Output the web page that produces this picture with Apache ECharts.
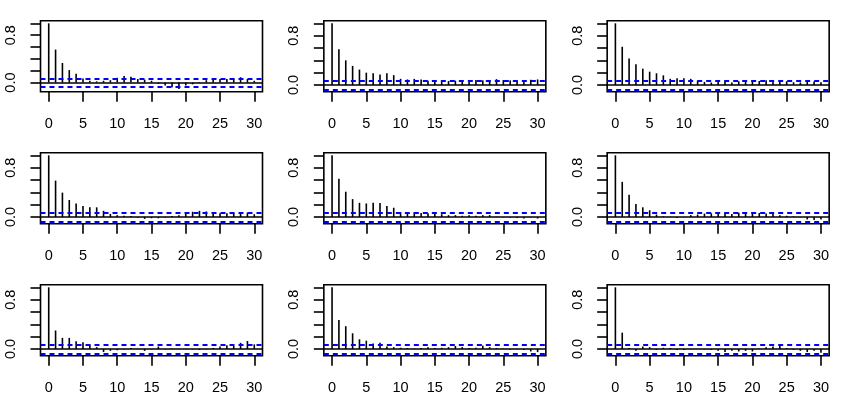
<!DOCTYPE html>
<html>
<head>
<meta charset="utf-8">
<script src="https://cdn.jsdelivr.net/npm/echarts@6/dist/echarts.min.js"></script>
<style>
    html, body { margin: 0; padding: 0; background: #fff; }
    #chartAcf { width: 850px; height: 396px; }
</style>
</head>
<body>
<div id="chartAcf"></div>
<script>
    // lags 0..30
    const lags = [0,1,2,3,4,5,6,7,8,9,10,11,12,13,14,15,16,17,18,19,20,21,22,23,24,25,26,27,28,29,30];

    // acf values per panel (row by row)
    const acf1 = [1, 0.557, 0.33, 0.21, 0.15, 0.07, 0.03, 0.02, 0.03, 0.04, 0.08, 0.11, 0.10, 0.06, 0.05, 0.03, -0.02, -0.05, -0.08, -0.11, -0.05, -0.03, 0.01, 0.04, 0.05, 0.06, 0.06, 0.07, 0.09, 0.06, 0.03];
    const acf2 = [1, 0.578, 0.40, 0.31, 0.25, 0.20, 0.19, 0.17, 0.19, 0.16, 0.10, 0.09, 0.10, 0.09, 0.07, 0.065, 0.06, 0.065, 0.07, 0.06, 0.07, 0.08, 0.075, 0.08, 0.095, 0.08, 0.075, 0.07, 0.065, 0.085, 0.09];
    const acf3 = [1, 0.62, 0.43, 0.335, 0.265, 0.216, 0.19, 0.157, 0.10, 0.11, 0.11, 0.10, 0.07, 0.05, 0.04, 0.06, 0.07, 0.04, 0.06, 0.07, 0.08, 0.065, 0.075, 0.07, 0.08, 0.06, 0.045, 0.04, 0.05, 0.055, 0.045];
    const acf4 = [1, 0.59, 0.395, 0.275, 0.22, 0.18, 0.157, 0.157, 0.10, 0.05, 0.03, 0.02, 0.015, -0.01, -0.03, -0.02, -0.02, -0.01, 0.015, 0.03, 0.055, 0.085, 0.10, 0.09, 0.07, 0.06, 0.06, 0.065, 0.07, 0.07, 0.045];
    const acf5 = [1, 0.62, 0.41, 0.29, 0.23, 0.22, 0.23, 0.227, 0.18, 0.15, 0.08, 0.075, 0.075, 0.065, 0.06, 0.055, 0.045, 0.03, 0.03, 0.02, 0.03, 0.02, 0.03, 0.03, 0.005, -0.005, -0.01, -0.015, -0.025, -0.005, -0.025];
    const acf6 = [1, 0.57, 0.36, 0.21, 0.157, 0.11, 0.04, 0.01, 0.005, -0.015, -0.005, 0.03, 0.04, 0.055, 0.06, 0.065, 0.065, 0.05, 0.07, 0.07, 0.065, 0.065, 0.055, 0.05, 0.03, 0.02, 0.01, -0.005, -0.04, -0.05, -0.04];
    const acf7 = [1, 0.30, 0.18, 0.18, 0.125, 0.11, 0.07, 0.03, -0.05, -0.03, -0.02, -0.01, 0.015, 0.005, -0.03, -0.005, 0.04, -0.005, 0.005, -0.005, 0.005, -0.005, -0.015, -0.005, 0.015, 0.04, 0.06, 0.05, 0.10, 0.13, 0.075];
    const acf8 = [1, 0.47, 0.37, 0.255, 0.157, 0.135, 0.09, 0.10, 0.04, 0.03, 0.02, 0.015, 0.005, 0.015, 0.03, 0.015, 0.02, 0.03, 0.05, 0.03, 0.015, 0.02, 0.055, 0.03, 0.015, 0.005, -0.01, -0.005, -0.015, -0.04, -0.05];
    const acf9 = [1, 0.265, 0.015, -0.03, 0.04, 0.03, -0.015, 0.02, 0.015, -0.015, -0.015, -0.005, 0, -0.005, -0.015, -0.03, -0.05, -0.03, -0.04, -0.03, -0.04, 0.005, 0.03, 0.04, 0.05, 0.015, -0.015, -0.03, -0.05, -0.03, -0.06];

    const panels = [acf1, acf2, acf3, acf4, acf5, acf6, acf7, acf8, acf9];
    const clim = 0.066; // confidence bound

    const xTicks = [0, 5, 10, 15, 20, 25, 30];
    const yTicks = [0, 0.2, 0.4, 0.6, 0.8, 1];
    const yLabels = [0, 0.8];

    const font = 'Liberation Sans';
    const colW = 850 / 3;
    const rowH = 132;

    let grids = [], xAxes = [], yAxes = [], series = [];
    panels.forEach((acf, i) => {
        const col = i % 3, row = Math.floor(i / 3);
        // R style ylim: range(c(-clim, clim, acf)) with 4% padding
        const lo = Math.min(-clim, ...acf);
        const hi = 1;
        const pad = 0.04 * (hi - lo);
        grids.push({
            left: col * colW + 40.5,
            top: row * rowH + 20.7,
            width: 222,
            height: 71,
            show: true,
            borderColor: '#000',
            borderWidth: 1.6,
            backgroundColor: 'transparent'
        });
        xAxes.push({
            type: 'value',
            gridIndex: i,
            min: -1.2,
            max: 31.2,
            splitLine: { show: false },
            axisLine: { show: false, onZero: false },
            axisTick: { show: true, inside: false, customValues: xTicks, length: 10, lineStyle: { color: '#000', width: 1.6 } },
            axisLabel: {
                customValues: xTicks,
                margin: 25,
                fontSize: 14.5,
                fontFamily: font,
                color: '#000'
            }
        });
        yAxes.push({
            type: 'value',
            gridIndex: i,
            min: lo - pad,
            max: hi + pad,
            splitLine: { show: false },
            axisLine: { show: false, onZero: false },
            axisTick: { show: true, inside: false, customValues: yTicks, length: 10, lineStyle: { color: '#000', width: 1.6 } },
            axisLabel: {
                customValues: yLabels,
                rotate: 90,
                margin: 22,
                fontSize: 14.5,
                fontFamily: font,
                color: '#000',
                formatter: (v) => v.toFixed(1)
            }
        });
        series.push({
            type: 'custom',
            xAxisIndex: i,
            yAxisIndex: i,
            silent: true,
            data: lags.map((l, k) => [l, acf[k]]),
            renderItem: (params, api) => {
                const p0 = api.coord([api.value(0), 0]);
                const p1 = api.coord([api.value(0), api.value(1)]);
                return {
                    type: 'line',
                    shape: { x1: p0[0], y1: p0[1], x2: p1[0], y2: p1[1] },
                    style: { stroke: '#000', lineWidth: 1.6 }
                };
            },
            markLine: {
                silent: true,
                symbol: 'none',
                animation: false,
                label: { show: false },
                data: [
                    { yAxis: 0, lineStyle: { color: '#000', type: 'solid', width: 1.6 } },
                    { yAxis: clim, lineStyle: { color: '#0000ff', type: [5, 4], width: 1.8 } },
                    { yAxis: -clim, lineStyle: { color: '#0000ff', type: [5, 4], width: 1.8 } }
                ]
            }
        });
    });

    const myChart = echarts.init(document.getElementById('chartAcf'));
    myChart.setOption({
        animation: false,
        backgroundColor: '#fff',
        grid: grids,
        xAxis: xAxes,
        yAxis: yAxes,
        series: series
    });
</script>
</body>
</html>
